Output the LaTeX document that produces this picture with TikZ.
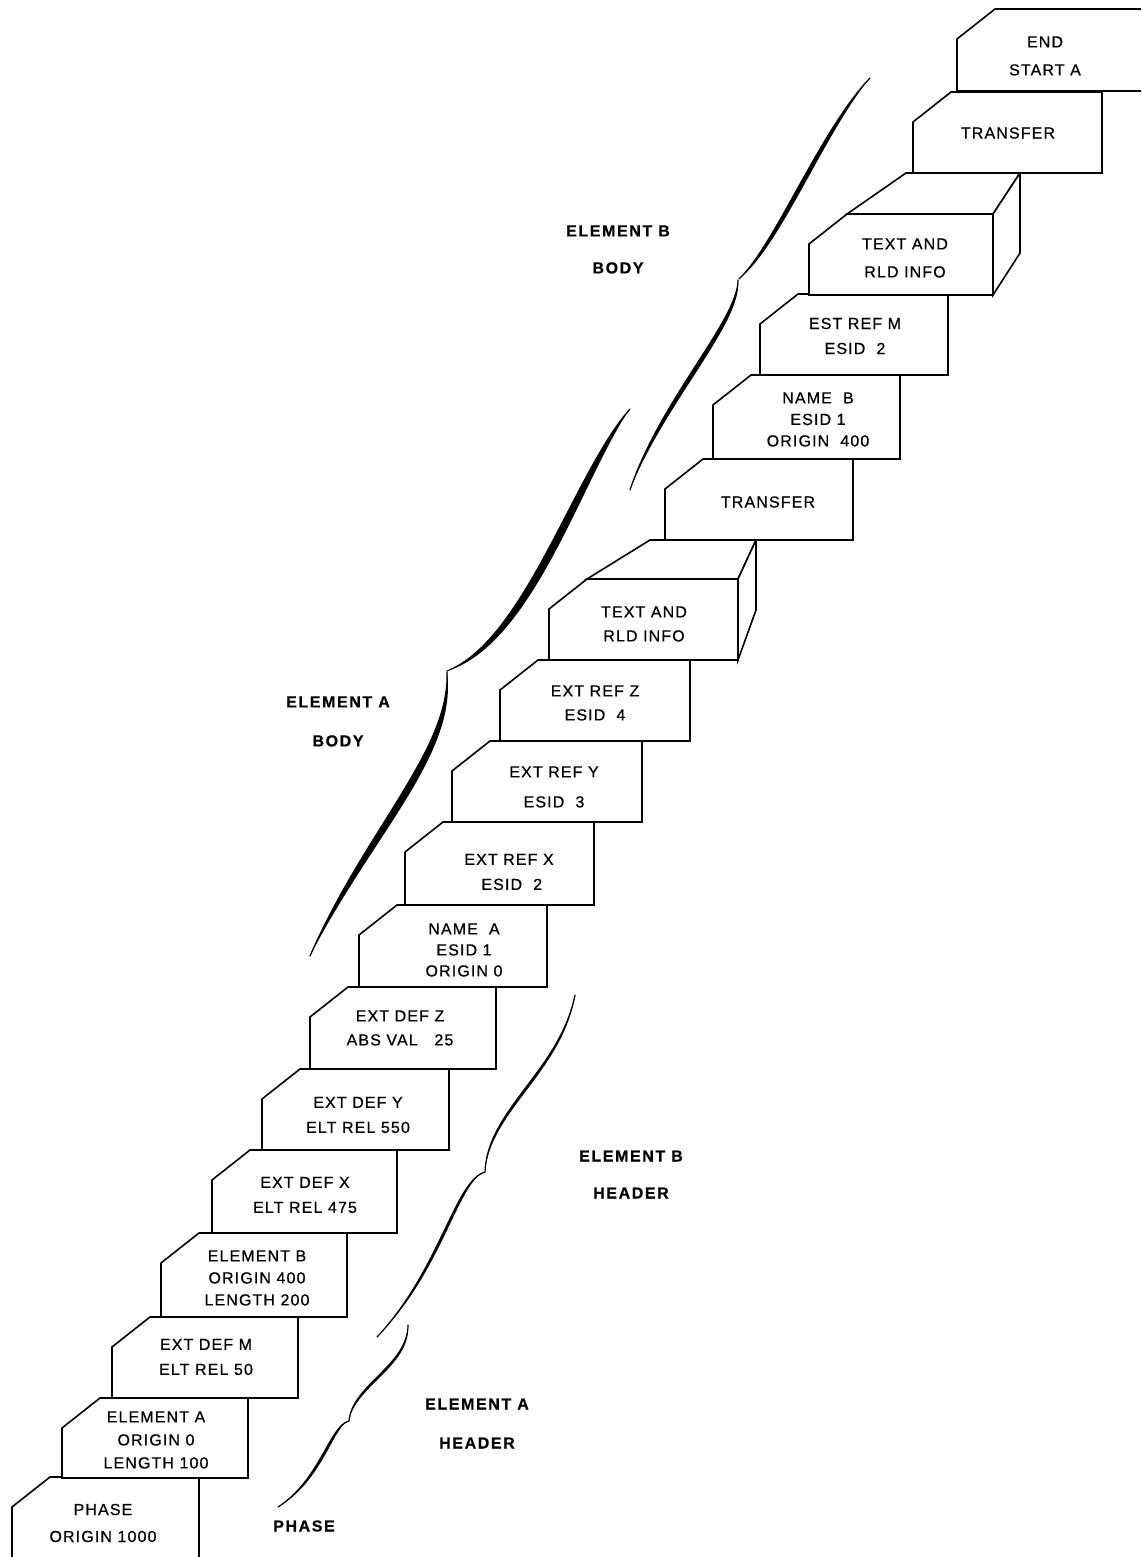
\documentclass[tikz,border=0pt]{standalone}
\usepackage{fontspec}
\usetikzlibrary{calc}
\newfontfamily\cardfont[LetterSpace=7,FakeBold=0.6]{Liberation Sans}
\newfontfamily\labelfont[LetterSpace=10,FakeBold=0.5]{Liberation Sans}
\tikzset{
  cardline/.style={line width=1.6pt, line join=miter, fill=white},
  braceline/.style={line width=1.2pt, line cap=round},
  ctext/.style={inner sep=0pt, align=center, font={\cardfont\fontsize{16}{#1}\selectfont}},
  ltext/.style={inner sep=0pt, align=center, font={\labelfont\bfseries\fontsize{16}{#1}\selectfont}}
}
% L T R B
\newcommand\card[4]{%
  \filldraw[cardline] (#1,#4) -- (#1,#2+30) -- (#1+38,#2) -- (#3,#2) -- (#3,#4) -- cycle;}
\newcommand\bracepart[5]{%
  \fill #1 .. controls #2 and #3 .. #4 .. controls ($#3+#5$) and ($#2+#5$) .. #1 -- cycle;
  \draw[braceline] #1 .. controls #2 and #3 .. #4;}
\begin{document}
\begin{tikzpicture}[x=1pt,y=-1pt]
\useasboundingbox (0,0) rectangle (1141,1557);
\clip (0,0) rectangle (1141,1557);
\fill[white] (0,0) rectangle (1141,1557);

% cards, bottom to top
\card{12}{1477}{199}{1575}
\card{62}{1398}{248}{1478}
\card{112}{1317}{298}{1398}
\card{161}{1233}{347}{1317}
\card{212}{1150}{397}{1233}
\card{262}{1069}{449}{1150}
\card{310}{987}{496}{1069}
\card{359}{905}{547}{987}
\card{405}{822}{594}{905}
\card{452}{741}{642}{822}
\card{500}{660}{690}{741}
% 3D box A
\card{549}{579}{738}{660}
\filldraw[cardline] (587,579) -- (650,540) -- (756,540) -- (738,579) -- cycle;
\filldraw[cardline] (738,579) -- (756,540) -- (756,610) -- (738,660) -- cycle;
\card{665}{459}{853}{540}
\card{713}{375}{900}{459}
\card{760}{294}{948}{375}
% 3D box B
\card{809}{214}{993}{295}
\filldraw[cardline] (847,214) -- (906,173) -- (1020,173) -- (993,214) -- cycle;
\filldraw[cardline] (993,214) -- (1020,173) -- (1020,253) -- (993,295) -- cycle;
\card{913}{92}{1102}{173}
\card{957}{9}{1160}{91}

% card texts
\node[ctext=28] (tEnd) at (1045,56) {END\\START A};
\node[ctext=20] (tTransB) at (1008,133) {TRANSFER};
\node[ctext=28] (tTextB) at (905,258) {TEXT AND\\RLD INFO};
\node[ctext=25] (tEstRef) at (855,336) {EST REF M\\ESID\ \ 2};
\node[ctext=21.5] (tNameB) at (818,419.5) {NAME\ \ B\\ESID 1\\ORIGIN\ \ 400};
\node[ctext=20] (tTransA) at (768,502) {TRANSFER};
\node[ctext=24] (tTextA) at (644,624) {TEXT AND\\RLD INFO};
\node[ctext=24] (tRefZ) at (595,703) {EXT REF Z\\ESID\ \ 4};
\node[ctext=30] (tRefY) at (554,787) {EXT REF Y\\ESID\ \ 3};
\node[ctext=25] (tRefX) at (509,872) {EXT REF X\\\ ESID\ \ 2};
\node[ctext=21] (tNameA) at (464,950) {NAME\ \ A\\ESID 1\\ORIGIN 0};
\node[ctext=24] (tDefZ) at (400,1028) {EXT DEF Z\\ABS VAL\ \ \ 25};
\node[ctext=25] (tDefY) at (358,1115) {EXT DEF Y\\ELT REL 550};
\node[ctext=25] (tDefX) at (305,1195) {EXT DEF X\\ELT REL 475};
\node[ctext=22] (tElB) at (257,1278) {ELEMENT B\\ORIGIN 400\\LENGTH 200};
\node[ctext=25] (tDefM) at (206,1357) {EXT DEF M\\ELT REL 50};
\node[ctext=23] (tElA) at (156,1440) {ELEMENT A\\ORIGIN 0\\LENGTH 100};
\node[ctext=27] (tPhase) at (103,1523) {PHASE\\ORIGIN 1000};

% side labels
\node[ltext=37] (lBbody) at (618,249.5) {ELEMENT B\\BODY};
\node[ltext=39] (lAbody) at (338,721.5) {ELEMENT A\\BODY};
\node[ltext=37] (lBhead) at (631,1174.5) {ELEMENT B\\HEADER};
\node[ltext=39] (lAhead) at (477,1423.5) {ELEMENT A\\HEADER};
\node[ltext=20] (lPhase) at (304,1526) {PHASE};

% braces
\bracepart{(870,78)}{(820,130)}{(775,245)}{(739,279)}{(5,2)}
\bracepart{(738,280)}{(738,320)}{(660,400)}{(630,490)}{(5,2)}
\bracepart{(630,409)}{(575,470)}{(525,640)}{(447,671)}{(9,4)}
\bracepart{(447,672)}{(450,750)}{(365,830)}{(310,956)}{(8,4)}
\bracepart{(575,995)}{(560,1070)}{(487,1110)}{(485,1172)}{(3,1)}
\bracepart{(485,1172)}{(455,1180)}{(440,1270)}{(377,1337)}{(3,1)}
\bracepart{(408,1325)}{(408,1365)}{(352,1385)}{(349,1421)}{(3,1)}
\bracepart{(349,1421)}{(330,1425)}{(320,1480)}{(278,1507)}{(3,1)}
\end{tikzpicture}
\end{document}
